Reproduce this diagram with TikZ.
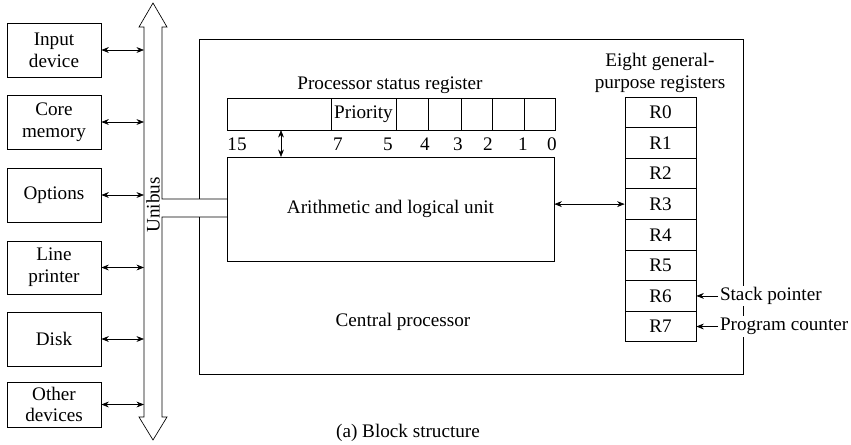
\documentclass[tikz,border=0pt]{standalone}
\usepackage{fontspec}
\setmainfont{Liberation Serif}
\usetikzlibrary{arrows.meta}

\tikzset{
  devbox/.style={draw, align=center, minimum width=56.4pt, inner sep=1pt},
  cellbox/.style={draw, minimum height=19.2pt, inner sep=0pt},
  regbox/.style={draw, minimum width=42.6pt, minimum height=18.36pt, inner sep=0pt},
  tag/.style={fill=white, inner sep=1pt, anchor=west}
}

\begin{document}
\begin{tikzpicture}[x=0.6pt,y=-0.6pt, every node/.style={font=\fontsize{11.5}{13}\selectfont},
  >={Stealth[length=4.5pt,width=3.5pt]}]
  \useasboundingbox (0,0) rectangle (851,444);
  \coordinate (busL) at (144,0);
  % peripheral devices on the Unibus
  \foreach \name/\y/\h/\txt in {inp/50/54/Input\\device, core/122/54/Core\\memory, opt/195/54/Options,
      lpr/267.5/53/Line\\printer, disk/339/54/Disk, other/404.5/45/Other\\devices} {
    \node[devbox, minimum height=\h*0.6pt] (\name) at (54,\y) {\txt};
    \draw[<->] (\name.east) -- (\name.east -| busL);
  }
  % the bus itself
  \node[draw, minimum width=196.2pt, minimum height=62.4pt] (alu) at (390.5,209) {Arithmetic and logical unit};
  \coordinate (chanA) at (227,199);
  \coordinate (chanB) at (227,217);
  \draw (chanB) -- (162,217) -- (162,417) -- (167,417) -- (153,440) -- (139,417)
    -- (144,417) -- (144,27) -- (139,27) -- (153,3) -- (167,27) -- (162,27) -- (162,199) -- (chanA);
  \node[rotate=90] (bus) at (153,205) {Unibus};
  % central processor
  \draw (199,199) -- (199,39) -- (743,39) -- (743,374) -- (199,374) -- (199,217);
  \node (cpu) at (403,322) {Central processor};
  % processor status register
  \node (psrlabel) at (390,85) {Processor status register};
  \foreach \a/\b [count=\i] in {227/331,331/396,396/428,428/461,461/492,492/524,524/555}
    \node[cellbox, minimum width=(\b-\a)*0.6pt] (psr\i) at ({(\a+\b)/2},114) {};
  \node at (psr2) {Priority};
  \foreach \x/\bit in {237/15,338/7,388/5,425/4,458/3,488/2,523/1,552/0}
    \node (bit\bit) at (\x,144) {\bit};
  \coordinate (pa) at (281,130);
  \coordinate (pb) at (281,157);
  \draw[<->] (pa) -- (pb);
  % general registers
  \node[align=center] (reglabel) at (660,73) {Eight general-\\purpose registers};
  \foreach \i in {0,...,7}
    \node[regbox] (r\i) at (660.5,{112.3+30.6*\i}) {R\i};
  \draw[<->] (alu.east |- r3) -- (r3.west);
  \node[tag] (sp) at (r6 -| 718,0) {Stack pointer};
  \node[tag] (pc) at (r7 -| 718,0) {Program counter};
  \draw[->] (sp.west) -- (sp.west -| r6.east);
  \draw[->] (pc.west) -- (pc.west -| r7.east);
  \node (caption) at (408,433) {(a) Block structure};
\end{tikzpicture}
\end{document}
